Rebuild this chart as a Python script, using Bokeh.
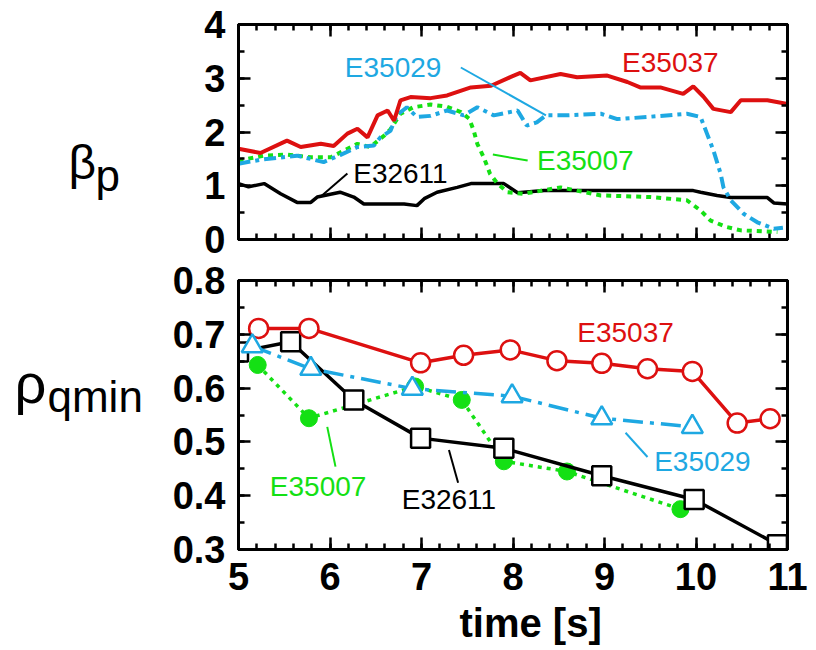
from bokeh.plotting import figure
from bokeh.layouts import column, row
from bokeh.models import Range1d, FixedTicker, LinearAxis, Label, Title, CustomJSTickFormatter
from bokeh.embed import file_html
from bokeh.resources import INLINE
from bokeh.core.properties import value

RED = "#dd1010"
CYAN = "#1ea8e2"
GREEN = "#14e014"
BLACK = "#000000"
FONT = "Liberation Sans"

# ---- poloidal beta traces (time [s], beta_p) ----
bp_t_35037 = [5.0, 5.24, 5.53, 5.68, 5.90, 6.04, 6.19, 6.30, 6.41, 6.52, 6.63, 6.70, 6.77, 6.88,
              7.10, 7.28, 7.54, 7.76, 7.97, 8.08, 8.19, 8.52, 8.70, 9.03, 9.25, 9.39, 9.61, 9.86,
              9.97, 10.08, 10.19, 10.38, 10.49, 10.78, 11.0]
bp_v_35037 = [1.69, 1.61, 1.84, 1.72, 1.78, 1.74, 1.97, 2.06, 1.90, 2.31, 2.40, 2.21, 2.59, 2.65,
              2.63, 2.68, 2.83, 2.86, 3.02, 3.10, 2.96, 3.08, 3.02, 3.05, 2.93, 2.83, 2.83, 2.71,
              2.85, 2.66, 2.43, 2.37, 2.59, 2.59, 2.52]

bp_t_35029 = [5.0, 5.26, 5.64, 5.93, 6.11, 6.30, 6.48, 6.55, 6.66, 6.73, 6.84, 6.95, 7.10, 7.28,
              7.46, 7.61, 7.79, 8.05, 8.15, 8.26, 8.36, 8.59, 8.96, 9.14, 9.47, 9.90, 10.05,
              10.12, 10.19, 10.27, 10.30, 10.38, 10.52, 10.67, 10.85, 10.95]
bp_v_35029 = [1.41, 1.49, 1.56, 1.44, 1.57, 1.72, 1.75, 1.90, 2.02, 2.31, 2.46, 2.28, 2.30, 2.40,
              2.31, 2.46, 2.31, 2.40, 2.12, 2.18, 2.31, 2.31, 2.34, 2.24, 2.28, 2.34, 2.28,
              1.97, 1.66, 1.22, 0.97, 0.73, 0.48, 0.32, 0.20, 0.22]

bp_t_35007 = [5.0, 5.28, 5.53, 5.79, 6.01, 6.30, 6.44, 6.59, 6.66, 6.77, 6.91, 7.10, 7.28, 7.43,
              7.52, 7.57, 7.61, 7.68, 7.75, 7.83, 7.94, 8.11, 8.52, 8.96, 9.50, 9.90, 10.05,
              10.16, 10.34, 10.49, 10.89]
bp_v_35007 = [1.47, 1.56, 1.58, 1.53, 1.53, 1.78, 1.72, 1.93, 2.05, 2.34, 2.46, 2.51, 2.47, 2.37,
              2.25, 2.03, 1.78, 1.53, 1.22, 1.04, 0.88, 0.85, 0.97, 0.82, 0.79, 0.73, 0.54,
              0.35, 0.23, 0.17, 0.14]

bp_t_32611 = [5.0, 5.11, 5.28, 5.46, 5.64, 5.79, 5.86, 6.11, 6.26, 6.37, 6.81, 6.95, 7.03, 7.17,
              7.39, 7.54, 7.90, 8.05, 8.34, 8.96, 9.97, 10.05, 10.23, 10.38, 10.78, 10.85, 11.0]
bp_v_32611 = [1.04, 0.98, 1.04, 0.85, 0.69, 0.69, 0.79, 0.88, 0.79, 0.66, 0.66, 0.63, 0.76, 0.88,
              0.97, 1.04, 1.04, 0.87, 0.91, 0.91, 0.91, 0.88, 0.82, 0.78, 0.78, 0.68, 0.66]

# ---- radius of q_min (time [s], rho_qmin) ----
rq_t_35037 = [5.22, 5.77, 6.99, 7.46, 7.97, 8.48, 8.97, 9.47, 9.96, 10.45, 10.81]
rq_v_35037 = [0.711, 0.711, 0.647, 0.661, 0.671, 0.651, 0.646, 0.636, 0.631, 0.535, 0.543]

rq_t_35029 = [5.15, 5.79, 6.90, 7.99, 8.97, 9.96]
rq_v_35029 = [0.678, 0.636, 0.599, 0.585, 0.544, 0.528]

rq_t_35007 = [5.21, 5.77, 6.93, 7.44, 7.90, 8.59, 9.83]
rq_v_35007 = [0.643, 0.544, 0.603, 0.578, 0.464, 0.445, 0.375]

rq_t_32611 = [5.0, 5.57, 6.26, 6.99, 7.90, 8.97, 9.98, 10.89]
rq_v_32611 = [0.667, 0.686, 0.578, 0.507, 0.488, 0.437, 0.393, 0.309]

x_major = [5, 6, 7, 8, 9, 10, 11]
x_minor = [5 + 0.2 * i for i in range(31)]
bp_major = [0, 1, 2, 3, 4]
bp_minor = [0.5 * i for i in range(9)]
rq_major = [0.3, 0.4, 0.5, 0.6, 0.7, 0.8]
rq_minor = [0.3 + 0.05 * i for i in range(11)]

LEFT_W = 160      # strip holding the quantity names
MAIN_W = 816 - LEFT_W


def style_axis(ax, major, minor, labels=True, label_standoff=10):
    ax.ticker = FixedTicker(ticks=major, minor_ticks=minor)
    ax.axis_line_color = BLACK
    ax.axis_line_width = 3
    ax.major_tick_in = 12
    ax.major_tick_out = 0
    ax.minor_tick_in = 6
    ax.minor_tick_out = 0
    ax.major_tick_line_width = 2.5
    ax.minor_tick_line_width = 2.5
    ax.major_tick_line_color = BLACK
    ax.minor_tick_line_color = BLACK
    if labels:
        ax.major_label_text_font = FONT
        ax.major_label_text_font_style = "bold"
        ax.major_label_text_font_size = "38px"
        ax.major_label_text_color = BLACK
        ax.major_label_standoff = label_standoff
    else:
        # mirrored / shared axes: ticks only
        ax.formatter = CustomJSTickFormatter(code="return '';")
        ax.major_label_text_font_size = "8px"
        ax.major_label_standoff = 0


def make_panel(height, y_range, y_major, y_minor, border_top, border_bottom, x_labels):
    p = figure(width=MAIN_W, height=height, x_range=Range1d(5, 11), y_range=y_range,
               output_backend="svg", toolbar_location=None,
               min_border_left=238 - LEFT_W, min_border_right=29,
               min_border_top=border_top, min_border_bottom=border_bottom)
    p.grid.visible = False
    p.outline_line_color = BLACK
    p.outline_line_width = 3
    p.background_fill_color = "white"
    p.border_fill_color = "white"
    style_axis(p.xaxis[0], x_major, x_minor, labels=x_labels, label_standoff=13)
    style_axis(p.yaxis[0], y_major, y_minor, labels=True, label_standoff=13)
    top = LinearAxis()
    style_axis(top, x_major, x_minor, labels=False)
    p.add_layout(top, "above")
    right = LinearAxis()
    style_axis(right, y_major, y_minor, labels=False)
    p.add_layout(right, "right")
    return p


def tag(p, x, y, text, color, size="28px"):
    p.add_layout(Label(x=x, y=y, text=text, text_color=color, text_font=FONT,
                       text_font_size=size, text_align="center", text_baseline="middle"))


# ---- upper panel: beta_p ----
p1 = make_panel(260, Range1d(0, 4), bp_major, bp_minor, 24, 21, False)
p1.line(bp_t_32611, bp_v_32611, color=BLACK, line_width=3.5)
p1.line(bp_t_35007, bp_v_35007, color=GREEN, line_width=4, line_dash="5 5")
p1.line(bp_t_35029, bp_v_35029, color=CYAN, line_width=4, line_dash="12 5 4 5")
p1.line(bp_t_35037, bp_v_35037, color=RED, line_width=4)

p1.segment(x0=[7.43], y0=[3.20], x1=[8.36], y1=[2.31], color=CYAN, line_width=2)
p1.segment(x0=[7.78], y0=[1.58], x1=[8.16], y1=[1.47], color=GREEN, line_width=2)
p1.segment(x0=[6.19], y0=[1.23], x1=[5.90], y1=[0.80], color=BLACK, line_width=2)

tag(p1, 9.72, 3.29, "E35037", RED)
tag(p1, 6.69, 3.20, "E35029", CYAN)
tag(p1, 8.79, 1.47, "E35007", GREEN)
tag(p1, 6.77, 1.23, "E32611", BLACK)

# ---- lower panel: rho_qmin ----
p2 = make_panel(390, Range1d(0.3, 0.8), rq_major, rq_minor, 20, 100, True)

p2.line(rq_t_35007, rq_v_35007, color=GREEN, line_width=3.5, line_dash="4 5")
p2.scatter(rq_t_35007, rq_v_35007, marker="circle", size=17, fill_color=GREEN, line_color=GREEN)

p2.line(rq_t_32611, rq_v_32611, color=BLACK, line_width=3.5)
p2.scatter(rq_t_32611, rq_v_32611, marker="square", size=19, fill_color="white",
           line_color=BLACK, line_width=2.5)

p2.line(rq_t_35037, rq_v_35037, color=RED, line_width=3.5)
p2.scatter(rq_t_35037, rq_v_35037, marker="circle", size=19, fill_color="white",
           line_color=RED, line_width=2.5)

p2.line(rq_t_35029, rq_v_35029, color=CYAN, line_width=3.5, line_dash="20 7 4 7")
p2.scatter(rq_t_35029, rq_v_35029, marker="triangle", size=21, fill_color="white",
           line_color=CYAN, line_width=2.5)

p2.segment(x0=[9.23], y0=[0.517], x1=[9.47], y1=[0.472], color=CYAN, line_width=2)
p2.segment(x0=[5.97], y0=[0.528], x1=[6.06], y1=[0.454], color=GREEN, line_width=2)
p2.segment(x0=[7.30], y0=[0.485], x1=[7.40], y1=[0.424], color=BLACK, line_width=2)

tag(p2, 9.23, 0.704, "E35037", RED)
tag(p2, 10.07, 0.463, "E35029", CYAN)
tag(p2, 5.87, 0.417, "E35007", GREEN)
tag(p2, 7.30, 0.393, "E32611", BLACK)

# x-axis title, set a little right of the frame centre
p2.add_layout(Title(text="time [s]", align="left", offset=221, text_font=FONT,
                    text_font_size="40px", text_font_style="bold", text_color=BLACK,
                    standoff=12), "below")

# ---- left strip: quantity names with subscripts (pixel coordinates, y down) ----
names = figure(width=LEFT_W, height=650, x_range=Range1d(0, LEFT_W), y_range=Range1d(650, 0),
               output_backend="svg", toolbar_location=None, x_axis_type=None, y_axis_type=None,
               min_border=0)
names.grid.visible = False
names.outline_line_color = None
names.text(x=[68, 14], y=[162, 383], text=["β", "ρ"], text_font=value(FONT),
           text_font_size=["48px", "56px"], text_color=BLACK, text_align="left",
           text_baseline="alphabetic")
names.text(x=[95, 47], y=[175, 396], text=["p", "qmin"], text_font=value(FONT),
           text_font_size="44px", text_color=BLACK, text_align="left",
           text_baseline="alphabetic")

layout = row(names, column(p1, p2))
open("out.html", "w").write(file_html(layout, INLINE))
